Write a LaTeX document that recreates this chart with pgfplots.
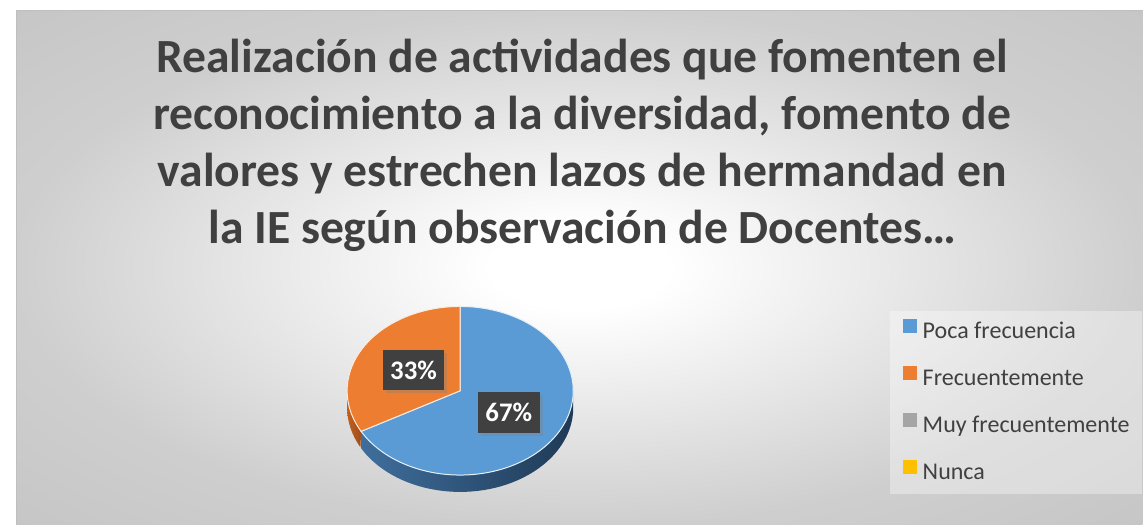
\documentclass[border=0pt]{standalone}
\usepackage{pgfplots}
\pgfplotsset{compat=1.18}
\usepackage{pgfplotstable}
\usepackage{fontspec}
\setmainfont{Carlito}
\usetikzlibrary{shadows}
\definecolor{cBlue}{HTML}{5B9BD5}
\definecolor{cOrange}{HTML}{ED7D31}
\definecolor{cGray}{HTML}{A5A5A5}
\definecolor{cGold}{HTML}{FFC000}
\definecolor{txt}{HTML}{404040}
\definecolor{sideBlueL}{HTML}{3F6E9C}
\definecolor{sideBlueR}{HTML}{1F3A56}
\definecolor{sideOrangeL}{HTML}{C0621F}
\definecolor{sideOrangeR}{HTML}{9E4E18}
\pgfdeclareradialshading{bgshade}{\pgfpoint{0bp}{0bp}}{color(0bp)=(white); color(4bp)=(white); color(25bp)=(black!19); color(50bp)=(black!27)}

\pgfplotstableread[col sep=comma]{
label,value
Poca frecuencia,67
Frecuentemente,33
Muy frecuentemente,0
Nunca,0
}\piedata

\begin{document}
\pgfplotstablegetelem{0}{value}\of\piedata \let\vA\pgfplotsretval
\pgfplotstablegetelem{1}{value}\of\piedata \let\vB\pgfplotsretval
\pgfmathsetmacro\aAB{90-3.6*\vA}
\pgfmathsetmacro\aEnd{\aAB-3.6*\vB}
\begin{tikzpicture}
\begin{axis}[
  scale only axis, width=571.5bp, height=264.5bp,
  xmin=0, xmax=1143, ymin=0, ymax=529,
  hide axis, clip=false,
  legend image code/.code={\fill[#1, fill opacity=1] (0bp,0bp) rectangle (7bp,7bp);},
  legend cell align=left,
  legend style={at={(0.7769,0.4083)}, anchor=north west, draw=none,
    fill=white, fill opacity=0.35, text opacity=1, text=txt,
    font=\fontsize{12.1bp}{14bp}\selectfont,
    inner xsep=6.5bp, inner ysep=4bp, row sep=10.7bp, column sep=3bp,
    nodes={inner sep=0pt, text height=9bp, text depth=3bp}},
]
% background
\fill[white] (axis cs:0,0) rectangle (axis cs:1143,529);
\shade[shading=bgshade] (axis cs:8,0) rectangle (axis cs:1143,518);
\draw[black!25, line width=0.5bp] (axis cs:8,0) -- (axis cs:8,518) -- (axis cs:1143,518);

% pie sides (front half only)
\addplot[forget plot, draw=none, left color=sideBlueL, right color=sideBlueR, domain=0:2, samples=241]
  ({455+114*cos(\aAB+(0-\aAB)*(1-abs(x-1)))}, {135+85*sin(\aAB+(0-\aAB)*(1-abs(x-1)))-17*(x>1)}) -- cycle;
\addplot[forget plot, draw=none, left color=sideOrangeL, right color=sideOrangeR, domain=0:2, samples=81]
  ({455+114*cos(-180+(\aAB+180)*(1-abs(x-1)))}, {135+85*sin(-180+(\aAB+180)*(1-abs(x-1)))-17*(x>1)}) -- cycle;

% pie tops
\addplot[forget plot, fill=cBlue, draw=white!85!cBlue, line width=0.5bp, domain=\aAB:90, samples=180]
  ({455+114*cos(x)}, {135+85*sin(x)}) -- (axis cs:455,135) -- cycle;
\addplot[forget plot, fill=cOrange, draw=white!85!cOrange, line width=0.5bp, domain=\aEnd:\aAB, samples=90]
  ({455+114*cos(x)}, {135+85*sin(x)}) -- (axis cs:455,135) -- cycle;

% data labels
\node[fill=txt, text=white, font=\bfseries\fontsize{13.5bp}{14bp}\selectfont,
  minimum width=31bp, minimum height=20.5bp, inner sep=0pt,
  drop shadow={opacity=0.35, shadow xshift=1.5bp, shadow yshift=-1.5bp}]
  at (axis cs:408,156) {\vB\%};
\node[fill=txt, text=white, font=\bfseries\fontsize{13.5bp}{14bp}\selectfont,
  minimum width=31bp, minimum height=20.5bp, inner sep=0pt,
  drop shadow={opacity=0.35, shadow xshift=1.5bp, shadow yshift=-1.5bp}]
  at (axis cs:504,113) {\vA\%};

% title
\node[anchor=base, text=txt, font=\bfseries\fontsize{24bp}{28bp}\selectfont] at (axis cs:578,456) {Realización de actividades que fomenten el};
\node[anchor=base, text=txt, font=\bfseries\fontsize{24bp}{28bp}\selectfont] at (axis cs:578,398.5) {reconocimiento a la diversidad, fomento de};
\node[anchor=base, text=txt, font=\bfseries\fontsize{24bp}{28bp}\selectfont] at (axis cs:578,341) {valores y estrechen lazos de hermandad en};
\node[anchor=base, text=txt, font=\bfseries\fontsize{24bp}{28bp}\selectfont] at (axis cs:578,283.5) {la IE según observación de Docentes…};

% legend
\addlegendimage{fill=cBlue, draw=none}
\addlegendentry{Poca frecuencia}
\addlegendimage{fill=cOrange, draw=none}
\addlegendentry{Frecuentemente}
\addlegendimage{fill=cGray, draw=none}
\addlegendentry{Muy frecuentemente}
\addlegendimage{fill=cGold, draw=none}
\addlegendentry{Nunca}
\end{axis}
\end{tikzpicture}
\end{document}
